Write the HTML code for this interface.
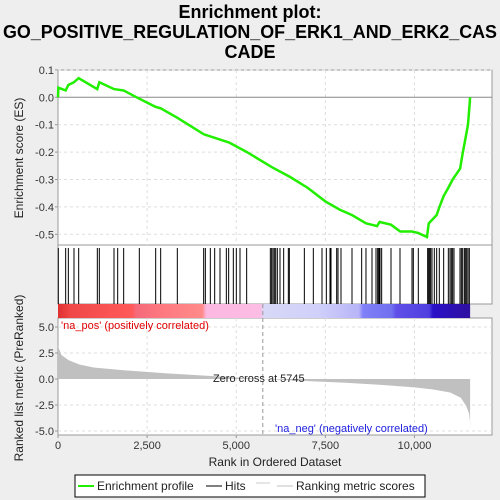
<!DOCTYPE html>
<html><head><meta charset="utf-8"><style>
body{margin:0;background:#eeeeee;}
svg{display:block;font-family:"Liberation Sans",sans-serif;}
</style></head><body>
<svg id="c" width="500" height="500" viewBox="0 0 500 500" xmlns="http://www.w3.org/2000/svg">
<rect x="0" y="0" width="500" height="500" fill="#eeeeee"/>
<g font-weight="bold" font-size="18" text-anchor="middle" fill="#000">
<text x="250" y="18">Enrichment plot:</text>
<text x="250" y="38" textLength="494" lengthAdjust="spacingAndGlyphs">GO_POSITIVE_REGULATION_OF_ERK1_AND_ERK2_CAS</text>
<text x="250" y="58">CADE</text>
</g>
<g id="g"></g>
</svg>
<script>
const esRanks=[0,10,215,290,449,580,1100,1160,1570,1840,2280,2740,2880,3350,4090,4800,5300,6000,6500,7000,7500,7900,8250,8640,8950,9020,9340,9600,9930,10100,10350,10400,10620,10700,10820,10950,11070,11280,11350,11430,11500,11540,11560];
const esValues=[0,0.035,0.025,0.045,0.055,0.07,0.03,0.055,0.03,0.025,-0.005,-0.035,-0.04,-0.075,-0.135,-0.165,-0.2,-0.255,-0.29,-0.33,-0.38,-0.41,-0.43,-0.46,-0.47,-0.455,-0.465,-0.49,-0.49,-0.495,-0.51,-0.46,-0.43,-0.4,-0.36,-0.33,-0.3,-0.26,-0.205,-0.15,-0.1,-0.035,0.0];
const hitRanks=[9,215,290,449,580,1103,1159,1571,1674,1842,2281,2740,2880,3347,4086,4133,4273,4395,4544,4722,4787,4918,5002,5105,5292,5956,5993,6031,6068,6106,6152,6227,6330,6461,6489,6910,7162,7405,7527,7630,7658,7817,7854,7938,8247,8518,8639,8808,8920,8967,8985,9013,9032,9079,9341,9593,9930,9967,10107,10369,10397,10425,10453,10491,10556,10622,10696,10818,10949,10996,11033,11070,11108,11276,11314,11351,11398,11426,11463,11500,11538];
const metricRanks=[0,50,100,300,600,1000,2000,3000,4000,5000,5745,7000,8000,9000,10000,10500,11000,11300,11450,11530,11555,11560];
const metricValues=[3.2,2.7,2.3,1.8,1.4,1.1,0.8,0.55,0.35,0.15,0,-0.2,-0.35,-0.55,-0.8,-1.0,-1.3,-1.8,-2.6,-3.3,-4.0,-4.8];
const esTicks=[0.1,0,-0.1,-0.2,-0.3,-0.4,-0.5];
const esTickLabels=["0.1","0.0","-0.1","-0.2","-0.3","-0.4","-0.5"];
const mTicks=[5,2.5,0,-2.5,-5];
const mTickLabels=["5.0","2.5","0.0","-2.5","-5.0"];
const xTicks=[0,2500,5000,7500,10000];
const xTickLabels=["0","2,500","5,000","7,500","10,000"];
const zeroCross=5745;

const NS="http://www.w3.org/2000/svg";
const G=document.getElementById('g');
const L=58,R=492;
const X=r=>L+r*0.03565;
const YE=v=>97.3-v*274;
const YM=v=>379-v*10.4;
function el(t,a,p){const e=document.createElementNS(NS,t);for(const k in a)e.setAttribute(k,a[k]);(p||G).appendChild(e);return e;}

let p1=el('rect',{x:L,y:70,width:R-L,height:175,fill:'#fff',stroke:'#999'});


let p2=el('rect',{x:L,y:245,width:R-L,height:59,fill:'#fff',stroke:'#999'});


let p3=el('rect',{x:L,y:318,width:R-L,height:117,fill:'#fff',stroke:'#999'});



xTicks.forEach(t=>{if(t>0){el('line',{x1:X(t),x2:X(t),y1:70,y2:245,stroke:'#ddd','stroke-dasharray':'3,3'});el('line',{x1:X(t),x2:X(t),y1:318,y2:435,stroke:'#ddd','stroke-dasharray':'3,3'});}});
esTicks.forEach((t,i)=>{if(t!==0)el('line',{x1:L,x2:R,y1:YE(t),y2:YE(t),stroke:'#ddd','stroke-dasharray':'3,3'});
 const tx=el('text',{x:L-4,y:YE(t)+4,'font-size':11,'text-anchor':'end',fill:'#333'});tx.textContent=esTickLabels[i];
 
 
 el('line',{x1:L-3,x2:L,y1:YE(t),y2:YE(t),stroke:'#999'});});
el('line',{x1:L,x2:R,y1:YE(0),y2:YE(0),stroke:'#888'});
mTicks.forEach((t,i)=>{if(t!==0)el('line',{x1:L,x2:R,y1:YM(t),y2:YM(t),stroke:'#ddd','stroke-dasharray':'3,3'});
 const tx=el('text',{x:L-4,y:YM(t)+4,'font-size':11,'text-anchor':'end',fill:'#333'});tx.textContent=mTickLabels[i];
 
 
 el('line',{x1:L-3,x2:L,y1:YM(t),y2:YM(t),stroke:'#999'});});
xTicks.forEach((t,i)=>{const tx=el('text',{x:X(t),y:449,'font-size':11,'text-anchor':'middle',fill:'#333'});tx.textContent=xTickLabels[i];
 
 
 el('line',{x1:X(t),x2:X(t),y1:435,y2:438,stroke:'#999'});});

const defs=el('defs',{});
const lg=el('linearGradient',{id:'cb',x1:0,x2:1,y1:0,y2:0},defs);
[[0,'#e03030'],[0.03,'#f04848'],[0.18,'#ff5a5a'],[0.19,'#f56a7a'],[0.26,'#fe7a80'],[0.35,'#ff8a8a'],[0.36,'#fcb8e0'],[0.49,'#fcbce4'],[0.5,'#d8d8f8'],[0.63,'#d0d0fa'],[0.73,'#b8b4f8'],[0.74,'#8080f8'],[0.81,'#7070f0'],[0.82,'#6050e8'],[0.9,'#5040e0'],[0.91,'#2a10c8'],[1,'#3010a0']].forEach(s=>el('stop',{offset:s[0],'stop-color':s[1]},lg));
let cb=el('rect',{x:X(0),y:304,width:X(11560)-X(0),height:14,fill:'url(#cb)'});



let d='M'+X(0)+','+YM(0);
metricRanks.forEach((r,i)=>{d+=' L'+X(r)+','+YM(metricValues[i]);});
d+=' L'+X(metricRanks[metricRanks.length-1])+','+YM(0)+' Z';
let ma=el('path',{d:d,fill:'#c0c0c0'});


el('line',{x1:X(zeroCross),x2:X(zeroCross),y1:304,y2:435,stroke:'#999','stroke-dasharray':'4,3'});
let zt=el('text',{x:X(zeroCross)-4,y:382,'font-size':11,'text-anchor':'middle',fill:'#222'});zt.textContent='Zero cross at '+zeroCross;


let pt=el('text',{x:61,y:329,'font-size':11,fill:'#e00000'});pt.textContent="'na_pos' (positively correlated)";


let nt=el('text',{x:275,y:432,'font-size':11,fill:'#2020e0'});nt.textContent="'na_neg' (negatively correlated)";



hitRanks.forEach(r=>{const h=el('line',{x1:X(r),x2:X(r),y1:248,y2:304,stroke:'#000','stroke-width':1});
 
 });

let pts=esRanks.map((r,i)=>X(r)+','+YE(esValues[i])).join(' ');
let es=el('polyline',{points:pts,fill:'none',stroke:'#22ee00','stroke-width':2.5});



let yt1=el('text',{transform:'translate(23,158) rotate(-90)','font-size':12,'text-anchor':'middle',fill:'#222'});yt1.textContent='Enrichment score (ES)';


let yt2=el('text',{transform:'translate(23,378) rotate(-90)','font-size':12,'text-anchor':'middle',fill:'#222'});yt2.textContent='Ranked list metric (PreRanked)';


let xt=el('text',{x:275,y:466,'font-size':12,'text-anchor':'middle',fill:'#222'});xt.textContent='Rank in Ordered Dataset';



const lgG=el('g',{});


el('rect',{x:75,y:475,width:350,height:22,fill:'#fff',stroke:'#000'},lgG);
el('line',{x1:78,x2:94,y1:486,y2:486,stroke:'#22ee00','stroke-width':2},lgG);
let t1=el('text',{x:97,y:490,'font-size':12,fill:'#222'},lgG);t1.textContent='Enrichment profile';
el('line',{x1:206,x2:222,y1:486,y2:486,stroke:'#000'},lgG);
let t2=el('text',{x:225,y:490,'font-size':12,fill:'#222'},lgG);t2.textContent='Hits';
el('line',{x1:256,x2:270,y1:483,y2:483,stroke:'#ccc'},lgG);
el('line',{x1:277,x2:293,y1:486,y2:486,stroke:'#c0c0c0'},lgG);
let t3=el('text',{x:296,y:490,'font-size':12,fill:'#222'},lgG);t3.textContent='Ranking metric scores';
</script>
</body></html>
